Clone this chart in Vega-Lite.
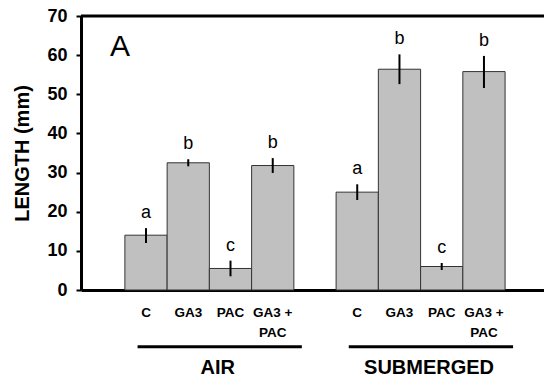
{
  "$schema": "https://vega.github.io/schema/vega-lite/v6.json",
  "width": 463,
  "height": 274,
  "autosize": {"type": "none"},
  "padding": {"left": 81, "top": 16, "right": 0, "bottom": 93},
  "background": "white",
  "config": {
    "view": {"stroke": null},
    "font": "Liberation Sans",
    "axisY": {
      "tickCount": 8, "grid": false, "labelOverlap": false,
      "domainColor": "black", "domainWidth": 3, "tickColor": "black", "tickWidth": 2, "tickSize": 5,
      "labelFont": "Liberation Sans", "labelFontWeight": "bold", "labelFontSize": 18, "labelColor": "black", "labelPadding": 9,
      "titleFont": "Liberation Sans", "titleFontWeight": "bold", "titleFontSize": 20, "titleColor": "black", "titlePadding": 14
    },
    "axisX": {
      "labelAngle": 0, "ticks": false, "tickSize": 0,
      "domainColor": "black", "domainWidth": 3,
      "labelFont": "Liberation Sans", "labelFontWeight": "bold", "labelFontSize": 13.5, "labelColor": "black",
      "labelPadding": 15, "labelLineHeight": 20, "labelOverlap": false
    }
  },
  "title": {"text": "A", "anchor": "start", "frame": "group", "orient": "top", "offset": -72, "dy": 7, "baseline": "alphabetic", "dx": 29, "fontSize": 30, "fontWeight": "normal", "font": "Liberation Sans", "color": "black"},
  "datasets": {
    "bars": [
      {"cat": "AIR_C", "value": 14.0, "lo": 12.0, "hi": 15.8, "letter": "a"},
      {"cat": "AIR_GA3", "value": 32.5, "lo": 31.6, "hi": 33.4, "letter": "b"},
      {"cat": "AIR_PAC", "value": 5.5, "lo": 3.5, "hi": 7.5, "letter": "c"},
      {"cat": "AIR_GA3 + PAC", "value": 31.8, "lo": 29.9, "hi": 33.7, "letter": "b"},
      {"cat": "SUB_C", "value": 25.0, "lo": 23.0, "hi": 27.0, "letter": "a"},
      {"cat": "SUB_GA3", "value": 56.4, "lo": 52.6, "hi": 60.2, "letter": "b"},
      {"cat": "SUB_PAC", "value": 6.0, "lo": 5.1, "hi": 6.9, "letter": "c"},
      {"cat": "SUB_GA3 + PAC", "value": 55.8, "lo": 51.6, "hi": 59.8, "letter": "b"}
    ],
    "groups": [
      {"group": "AIR", "start": "AIR_C", "end": "AIR_GA3 + PAC", "mid": "AIR_PAC"},
      {"group": "SUBMERGED", "start": "SUB_C", "end": "SUB_GA3 + PAC", "mid": "SUB_PAC"}
    ],
    "frame": [{"top": 70}]
  },
  "layer": [
    {
      "data": {"name": "bars"},
      "mark": {"type": "bar", "fill": "#c0c0c0", "stroke": "#333333", "strokeWidth": 1},
      "encoding": {
        "x": {
          "field": "cat", "type": "nominal", "title": null,
          "scale": {"domain": ["AIR_C", "AIR_GA3", "AIR_PAC", "AIR_GA3 + PAC", "gap", "SUB_C", "SUB_GA3", "SUB_PAC", "SUB_GA3 + PAC"], "paddingInner": 0, "paddingOuter": 0.98, "align": 0.53},
          "axis": {
            "labelExpr": "datum.value == 'gap' ? '' : (split(datum.value, '_')[1] == 'GA3 + PAC' ? ['GA3 +', 'PAC'] : split(datum.value, '_')[1])"
          }
        },
        "y": {
          "field": "value", "type": "quantitative", "title": "LENGTH (mm)",
          "scale": {"domain": [0, 70], "nice": false}
        }
      }
    },
    {
      "data": {"name": "bars"},
      "mark": {"type": "rule", "color": "black", "strokeWidth": 2},
      "encoding": {
        "x": {"field": "cat", "type": "nominal"},
        "y": {"field": "lo", "type": "quantitative"},
        "y2": {"field": "hi"}
      }
    },
    {
      "data": {"name": "bars"},
      "mark": {"type": "text", "baseline": "alphabetic", "dy": -10, "fontSize": 18, "font": "Liberation Sans", "color": "black"},
      "encoding": {
        "x": {"field": "cat", "type": "nominal"},
        "y": {"field": "hi", "type": "quantitative"},
        "text": {"field": "letter"}
      }
    },
    {
      "data": {"name": "frame"},
      "mark": {"type": "rule", "color": "black", "strokeWidth": 3},
      "encoding": {"y": {"field": "top", "type": "quantitative"}}
    },
    {
      "data": {"name": "groups"},
      "mark": {"type": "rule", "color": "black", "strokeWidth": 3, "x2Offset": 8},
      "encoding": {
        "x": {"field": "start", "type": "nominal", "bandPosition": 0.3},
        "x2": {"field": "end", "bandPosition": 1},
        "y": {"datum": -14.5}
      }
    },
    {
      "data": {"name": "groups"},
      "mark": {"type": "text", "baseline": "middle", "fontSize": 20, "fontWeight": "bold", "font": "Liberation Sans", "color": "black"},
      "encoding": {
        "x": {"field": "mid", "type": "nominal", "bandPosition": 0.2},
        "y": {"datum": -19.9},
        "text": {"field": "group"}
      }
    }
  ]
}
